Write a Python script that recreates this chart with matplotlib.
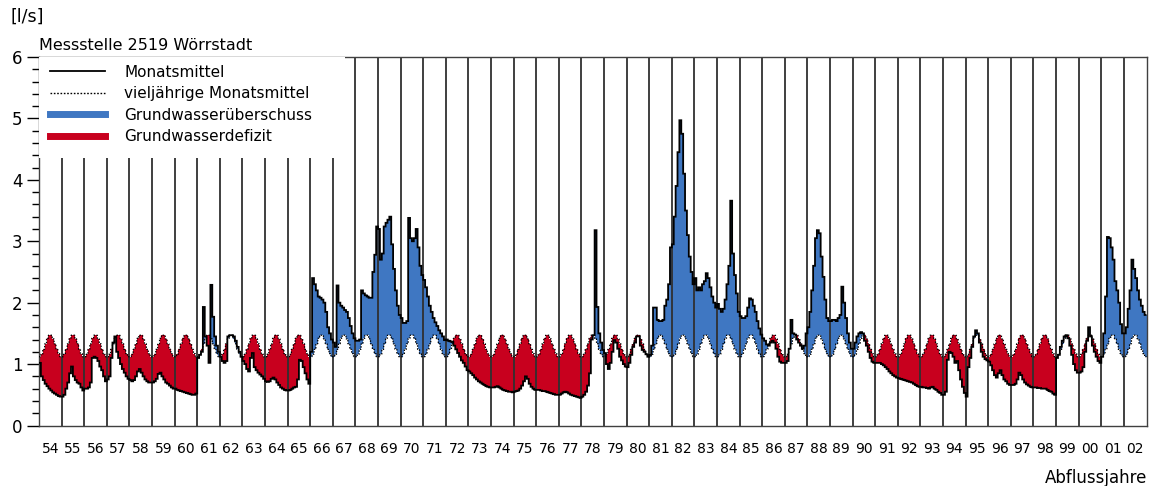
import numpy as np
import matplotlib
matplotlib.use("Agg")
import matplotlib.pyplot as plt
from matplotlib.patches import Rectangle
from matplotlib.lines import Line2D
from matplotlib.ticker import MultipleLocator

plt.rcParams['font.family'] = ['DejaVu Sans']

# hydrological years (Nov-Oct)
jahre = list(range(1954, 2003))
jahr_labels = [f"{j % 100:02d}" for j in jahre]

# long-term monthly means (Nov ... Oct), l/s
vieljaehrig = [1.12, 1.16, 1.24, 1.33, 1.42, 1.47, 1.47, 1.41, 1.33, 1.24, 1.17, 1.12]

# monthly means, l/s (one row per hydrological year, Nov ... Oct)
monatsmittel = [
    1.02, 0.80, 0.74, 0.68, 0.64, 0.60, 0.57, 0.54, 0.52, 0.50, 0.48, 0.47,  # 54
    0.47, 0.50, 0.60, 0.70, 0.85, 0.96, 0.80, 0.74, 0.70, 0.68, 0.62, 0.57,  # 55
    0.60, 0.60, 0.62, 0.70, 1.10, 1.12, 1.10, 1.05, 0.96, 0.90, 0.80, 0.72,  # 56
    0.75, 0.80, 1.10, 1.35, 1.45, 1.20, 1.10, 1.00, 0.92, 0.86, 0.80, 0.76,  # 57
    0.74, 0.72, 0.74, 0.80, 0.88, 0.92, 0.86, 0.80, 0.75, 0.72, 0.70, 0.70,  # 58
    0.70, 0.72, 0.76, 0.84, 0.86, 0.80, 0.75, 0.70, 0.68, 0.65, 0.62, 0.60,  # 59
    0.60, 0.58, 0.57, 0.56, 0.55, 0.54, 0.53, 0.52, 0.51, 0.50, 0.50, 0.52,  # 60
    1.10, 1.15, 1.20, 1.93, 1.45, 1.30, 1.02, 2.29, 1.77, 1.45, 1.30, 1.20,  # 61
    1.12, 1.05, 1.02, 1.05, 1.45, 1.47, 1.47, 1.45, 1.38, 1.28, 1.20, 1.12,  # 62
    1.05, 1.00, 0.92, 0.88, 1.10, 1.18, 0.95, 0.90, 0.86, 0.83, 0.80, 0.76,  # 63
    0.72, 0.71, 0.72, 0.76, 0.78, 0.75, 0.70, 0.66, 0.62, 0.60, 0.58, 0.57,  # 64
    0.57, 0.58, 0.60, 0.62, 0.63, 0.75, 1.07, 1.05, 0.95, 0.85, 0.75, 0.68,  # 65
    1.20, 2.40, 2.30, 2.20, 2.10, 2.08, 2.05, 2.00, 1.85, 1.60, 1.50, 1.40,  # 66
    1.35, 1.28, 2.28, 2.00, 1.95, 1.92, 1.88, 1.85, 1.75, 1.62, 1.50, 1.42,  # 67
    1.38, 1.38, 1.40, 2.20, 2.15, 2.12, 2.10, 2.08, 2.08, 2.50, 2.78, 3.24,  # 68
    3.20, 2.70, 2.80, 3.24, 3.30, 3.35, 3.40, 2.95, 2.55, 2.20, 1.95, 1.80,  # 69
    1.75, 1.67, 1.67, 1.70, 3.38, 3.05, 3.00, 3.05, 3.20, 2.90, 2.60, 2.45,  # 70
    2.37, 2.25, 2.10, 1.95, 1.85, 1.75, 1.68, 1.62, 1.55, 1.50, 1.45, 1.39,  # 71
    1.40, 1.38, 1.37, 1.36, 1.30, 1.24, 1.18, 1.12, 1.06, 1.02, 0.96, 0.90,  # 72
    0.88, 0.85, 0.82, 0.78, 0.75, 0.72, 0.70, 0.68, 0.66, 0.64, 0.63, 0.62,  # 73
    0.62, 0.62, 0.63, 0.64, 0.62, 0.60, 0.58, 0.57, 0.56, 0.55, 0.55, 0.54,  # 74
    0.55, 0.56, 0.57, 0.60, 0.65, 0.72, 0.80, 0.76, 0.68, 0.63, 0.60, 0.58,  # 75
    0.58, 0.58, 0.57, 0.56, 0.56, 0.55, 0.54, 0.53, 0.52, 0.51, 0.50, 0.50,  # 76
    0.50, 0.52, 0.54, 0.55, 0.54, 0.52, 0.50, 0.49, 0.48, 0.47, 0.46, 0.45,  # 77
    0.47, 0.50, 0.55, 0.65, 0.85, 1.40, 1.47, 3.18, 1.93, 1.50, 1.35, 1.23,  # 78
    1.18, 1.00, 0.92, 1.02, 1.20, 1.39, 1.35, 1.25, 1.12, 1.06, 1.00, 0.96,  # 79
    0.95, 1.02, 1.15, 1.28, 1.35, 1.45, 1.45, 1.30, 1.23, 1.20, 1.16, 1.12,  # 80
    1.15, 1.30, 1.92, 1.92, 1.72, 1.70, 1.70, 1.72, 1.95, 2.05, 2.30, 2.90,  # 81
    2.95, 3.40, 3.90, 4.45, 4.97, 4.75, 4.10, 3.50, 3.10, 2.75, 2.50, 2.30,  # 82
    2.40, 2.20, 2.25, 2.20, 2.30, 2.35, 2.48, 2.40, 2.25, 2.10, 2.00, 1.92,  # 83
    1.98, 1.90, 1.85, 1.90, 2.05, 2.30, 2.60, 3.66, 2.80, 2.45, 2.15, 1.85,  # 84
    1.78, 1.75, 1.75, 1.78, 1.92, 2.07, 2.05, 1.95, 1.85, 1.70, 1.58, 1.48,  # 85
    1.42, 1.38, 1.32, 1.30, 1.35, 1.38, 1.35, 1.25, 1.12, 1.04, 1.02, 1.02,  # 86
    1.02, 1.05, 1.25, 1.72, 1.50, 1.48, 1.40, 1.35, 1.30, 1.25, 1.30, 1.50,  # 87
    1.60, 1.85, 2.20, 2.60, 3.05, 3.18, 3.13, 2.75, 2.42, 2.05, 1.75, 1.70,  # 88
    1.70, 1.72, 1.72, 1.70, 1.75, 1.80, 2.26, 2.00, 1.75, 1.50, 1.35, 1.25,  # 89
    1.25, 1.35, 1.45, 1.50, 1.52, 1.50, 1.38, 1.30, 1.20, 1.10, 1.04, 1.02,  # 90
    1.02, 1.02, 1.02, 1.00, 0.98, 0.95, 0.92, 0.88, 0.85, 0.82, 0.80, 0.78,  # 91
    0.77, 0.76, 0.75, 0.74, 0.73, 0.72, 0.71, 0.70, 0.68, 0.66, 0.64, 0.63,  # 92
    0.63, 0.62, 0.62, 0.61, 0.60, 0.62, 0.63, 0.60, 0.58, 0.55, 0.53, 0.50,  # 93
    0.50, 0.55, 1.07, 1.20, 1.18, 1.12, 1.02, 1.05, 0.90, 0.75, 0.63, 0.53,  # 94
    0.47, 0.95, 1.10, 1.28, 1.45, 1.55, 1.50, 1.35, 1.20, 1.12, 1.08, 1.06,  # 95
    1.04, 0.98, 0.90, 0.82, 0.78, 0.85, 0.90, 0.82, 0.75, 0.72, 0.68, 0.66,  # 96
    0.66, 0.66, 0.68, 0.75, 0.86, 0.82, 0.75, 0.70, 0.67, 0.65, 0.63, 0.62,  # 97
    0.62, 0.62, 0.61, 0.61, 0.60, 0.60, 0.60, 0.58, 0.56, 0.55, 0.52, 0.50,  # 98
    1.10, 1.15, 1.28, 1.38, 1.45, 1.47, 1.42, 1.30, 1.15, 1.00, 0.90, 0.86,  # 99
    0.86, 0.88, 0.95, 1.20, 1.38, 1.60, 1.45, 1.30, 1.20, 1.12, 1.05, 1.02,  # 00
    1.12, 1.50, 2.10, 3.07, 3.05, 2.90, 2.70, 2.35, 2.20, 2.00, 1.65, 1.50,  # 01
    1.50, 1.60, 1.90, 2.20, 2.70, 2.55, 2.40, 2.20, 2.05, 1.95, 1.85, 1.80,  # 02
]

legend_labels = ["Monatsmittel", "vieljährige Monatsmittel",
                 "Grundwasserüberschuss", "Grundwasserdefizit"]

BLUE = "#3f77c2"
RED = "#c8001e"

M = np.array(monatsmittel)
C = np.tile(np.array(vieljaehrig), len(jahre))
n = len(M)
edges = np.arange(n + 1) / 12.0

xs = np.repeat(edges, 2)[1:-1]
Ms = np.repeat(M, 2)
Cs = np.repeat(C, 2)

fig = plt.figure(figsize=(11.55, 4.86), dpi=100)
ax = fig.add_axes([39 / 1155, 1 - 425.5 / 486, (1146.5 - 39) / 1155, (425.5 - 57) / 486])

ax.fill_between(xs, Cs, Ms, where=Ms > Cs, color=BLUE, lw=0, zorder=2)
ax.fill_between(xs, Cs, Ms, where=Ms < Cs, color=RED, lw=0, zorder=2)

ax.vlines(np.arange(1, len(jahre)), 0, 6, color="#303030", lw=1.3, zorder=2.5)

ax.stairs(C, edges, baseline=None, color="black", lw=0.9,
          linestyle=(0, (1.2, 1.2)), zorder=3)
ax.stairs(M, edges, baseline=None, color="black", lw=1.3, zorder=3.5)

ax.set_xlim(0, len(jahre))
ax.set_ylim(0, 6)

# white area behind legend
ax.add_patch(Rectangle((0.0, 0.726), 0.276, 0.274, transform=ax.transAxes,
                       facecolor="white", edgecolor="none", zorder=4))

handles = [Line2D([], [], color="black", lw=1.3),
           Line2D([], [], color="black", lw=1.0, linestyle=(0, (1.2, 1.2))),
           Line2D([], [], color=BLUE, lw=5),
           Line2D([], [], color=RED, lw=5)]
leg = ax.legend(handles, legend_labels, loc="upper left",
                bbox_to_anchor=(0.0095, 0.979), frameon=False, fontsize=11,
                handlelength=3.6, handletextpad=1.3, labelspacing=0.42,
                borderpad=0, borderaxespad=0)
leg.set_zorder(5)

ax.set_xticks(np.arange(len(jahre)) + 0.5)
ax.set_xticklabels(jahr_labels, fontsize=10)
ax.tick_params(axis="x", length=0, pad=12)

ax.yaxis.set_major_locator(MultipleLocator(1))
ax.yaxis.set_minor_locator(MultipleLocator(0.2))
ax.tick_params(axis="y", which="major", length=9, width=1, labelsize=12, pad=3)
ax.tick_params(axis="y", which="minor", length=5, width=1)

for s in ax.spines.values():
    s.set_color("#404040")
    s.set_linewidth(1.0)

ax.text(0.0, 1.012, "Messstelle 2519 Wörrstadt", transform=ax.transAxes,
        ha="left", va="bottom", fontsize=11.5)
fig.text(10 / 1155, 1 - 8 / 486, "[l/s]", ha="left", va="top", fontsize=12.5)
fig.text(1147 / 1155, 1 - 478 / 486, "Abflussjahre", ha="right", va="center",
         fontsize=12)

fig.savefig("out.png", dpi=100)
